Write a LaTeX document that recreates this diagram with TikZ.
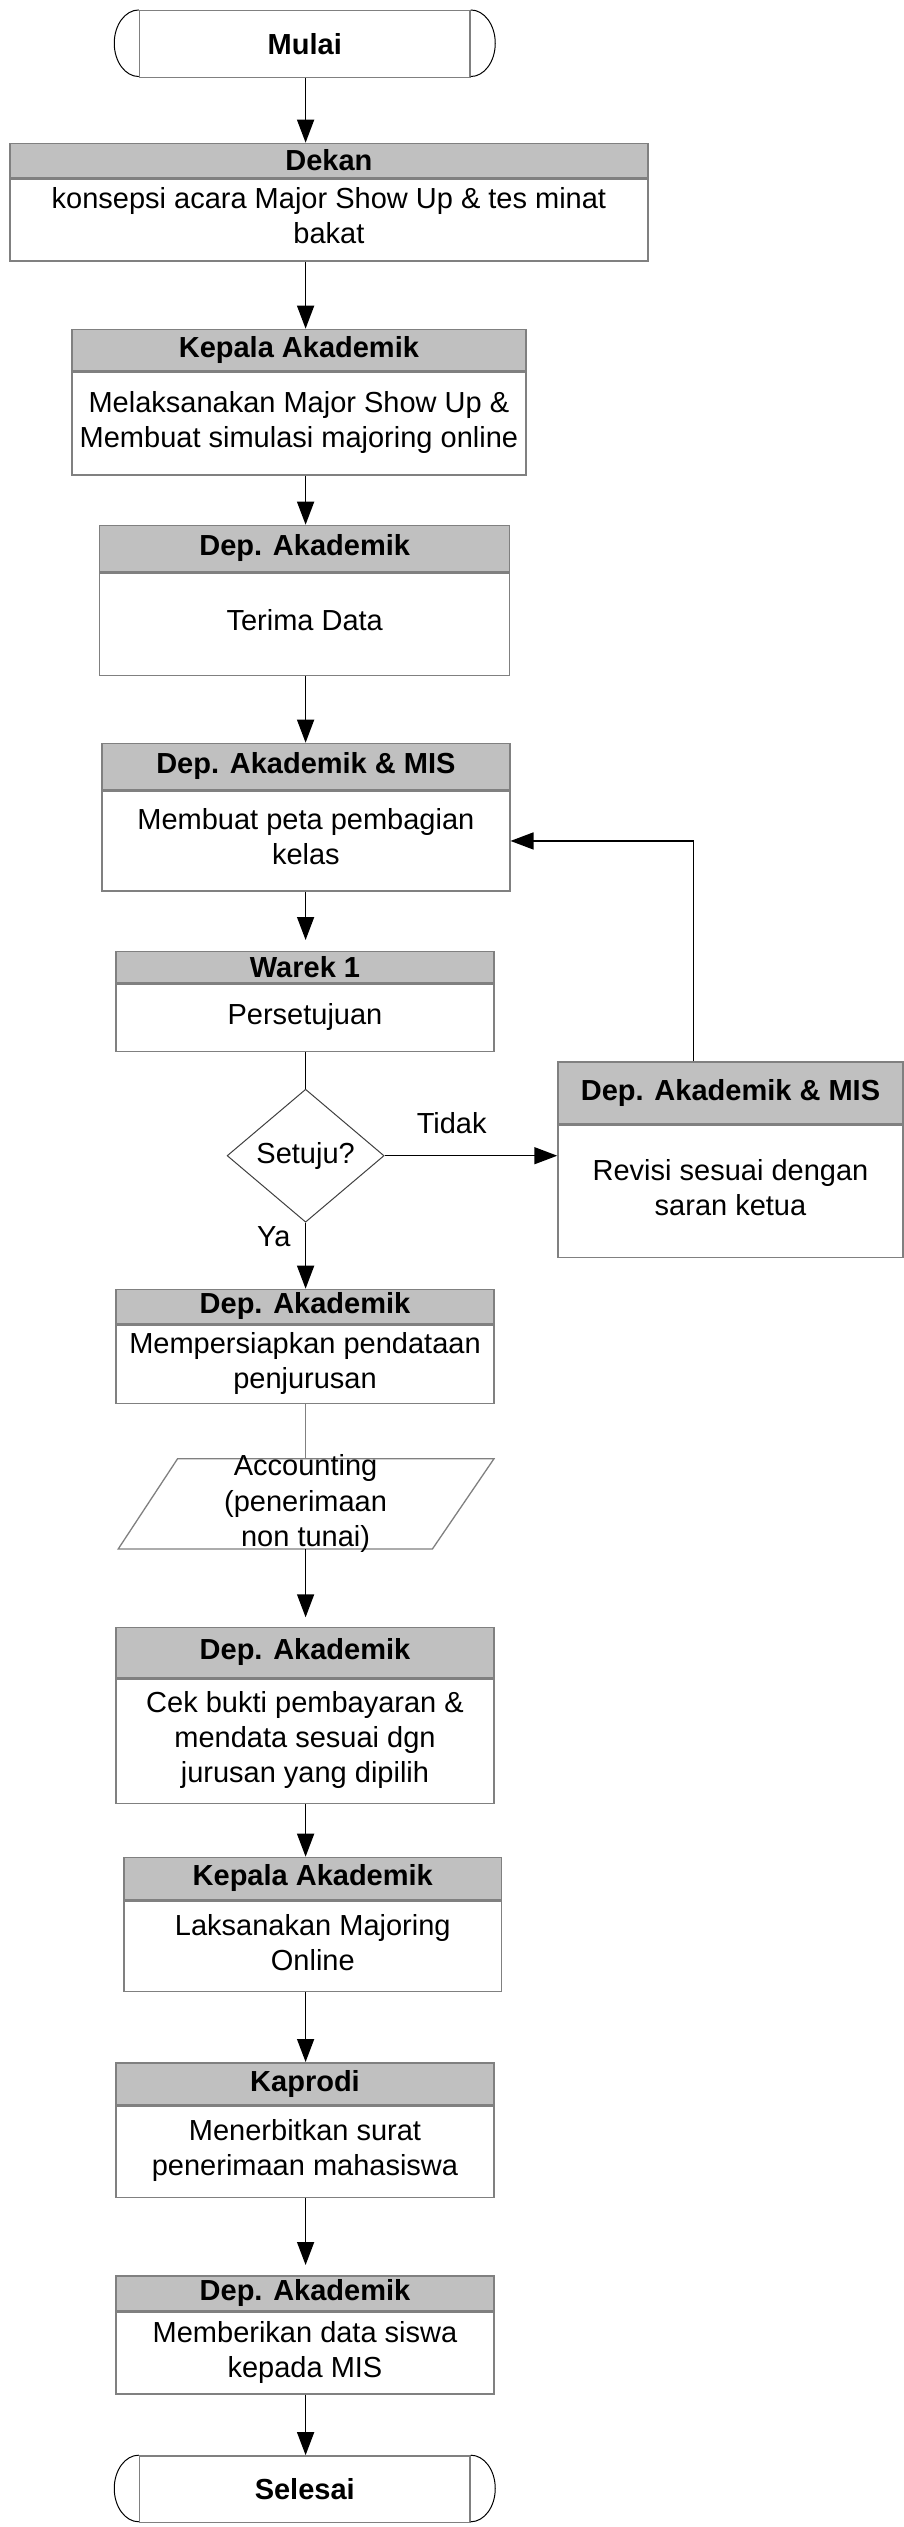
\documentclass[tikz,border=0pt]{standalone}
\usepackage{fontspec}
\setmainfont{Liberation Sans}
\usetikzlibrary{arrows.meta,shapes.geometric}
\definecolor{bordergray}{HTML}{808080}
\definecolor{hdrgray}{HTML}{C0C0C0}
\definecolor{diagray}{HTML}{404040}
\tikzset{
  hdr/.style={draw=bordergray, line width=1.5pt, fill=hdrgray, anchor=north, inner sep=0pt,
    font=\bfseries\fontsize{29}{35}\selectfont},
  bdy/.style={draw=bordergray, line width=1.5pt, fill=white, anchor=north, inner sep=0pt,
    align=center, font=\fontsize{29}{35}\selectfont,
    execute at end node={\rule[-8pt]{0pt}{8pt}}},
  term/.style={draw=bordergray, line width=1.5pt, minimum width=330.5pt, minimum height=66.6pt,
    inner sep=0pt, font=\bfseries\fontsize{29}{35}\selectfont},
  endarc/.style={draw=black, line width=1pt},
  arr/.style={line width=1.5pt, -{Triangle[length=23pt,width=17pt]}},
  plain/.style={line width=1.5pt},
  graylink/.style={draw=bordergray, line width=1.3pt},
  lbl/.style={font=\fontsize{29}{35}\selectfont, inner sep=0pt},
}
\begin{document}
\begin{tikzpicture}[x=1pt,y=-1pt]
\useasboundingbox[fill=white] (0,0) rectangle (904,2527);
\coordinate (ax) at (305.6,0);
\coordinate (fb) at (693.6,0);

% Mulai
\node[term] (mulai) at (304.75,44) {Mulai};
\draw[endarc] (mulai.north west) arc[start angle=90,end angle=270,x radius=24.5pt,y radius=33.3pt];
\draw[endarc] (mulai.north east) arc[start angle=90,end angle=-90,x radius=24.5pt,y radius=33.3pt];

% Dekan
\node[hdr, minimum width=638pt, minimum height=34pt] (dekanh) at (328.9,142.7) {Dekan};
\node[bdy, minimum width=638pt, minimum height=82pt] (dekan) at (dekanh.south) {konsepsi acara Major Show Up \& tes minat\\bakat};

% Kepala Akademik
\node[hdr, minimum width=453.8pt, minimum height=41.3pt] (kepalah) at (298.9,328.7) {Kepala Akademik};
\node[bdy, minimum width=453.8pt, minimum height=102.7pt] (kepala) at (kepalah.south) {Melaksanakan Major Show Up \&\\Membuat simulasi majoring online};

% Dep. Akademik
\node[hdr, minimum width=410pt, minimum height=46pt] (depakh) at (304.7,524.7) {Dep. Akademik};
\node[bdy, minimum width=410pt, minimum height=102.3pt] (depak) at (depakh.south) {Terima Data};

% Dep. Akademik & MIS
\node[hdr, minimum width=407.7pt, minimum height=46pt] (damh) at (305.9,742.7) {Dep. Akademik \& MIS};
\node[bdy, minimum width=407.7pt, minimum height=100pt] (dam) at (damh.south) {Membuat peta pembagian\\kelas};

% Warek 1
\node[hdr, minimum width=378pt, minimum height=31.6pt] (warekh) at (305,950.7) {Warek 1};
\node[bdy, minimum width=378pt, minimum height=66.7pt] (warek) at (warekh.south) {Persetujuan};

% Decision
\node[diamond, draw=diagray, line width=1pt, minimum width=157pt, minimum height=133pt, inner sep=0pt,
  font=\fontsize{29}{35}\selectfont] (dec) at (305.6,1155.7) {Setuju?};

% Revisi box
\node[hdr, minimum width=345pt, minimum height=61.7pt] (revh) at (730.5,1061) {Dep. Akademik \& MIS};
\node[bdy, minimum width=345pt, minimum height=132.3pt] (rev) at (revh.south) {Revisi sesuai dengan\\saran ketua};

% Dep. Akademik 2
\node[hdr, minimum width=378pt, minimum height=34pt] (depak2h) at (305,1288.7) {Dep. Akademik};
\node[bdy, minimum width=378pt, minimum height=78.3pt] (depak2) at (depak2h.south) {Mempersiapkan pendataan\\penjurusan};

% Accounting parallelogram
\coordinate (acctl) at (177.6,1458.7);
\coordinate (acctr) at (494,1458.7);
\coordinate (accbr) at (432.4,1549);
\coordinate (accbl) at (118.2,1549);
\coordinate (acctop) at (305.6,1458.7);
\coordinate (accbot) at (305.6,1549);
\draw[draw=bordergray, line width=1.3pt, fill=white] (acctl) -- (acctr) -- (accbr) -- (accbl) -- cycle;

% Dep. Akademik 3
\node[hdr, minimum width=378pt, minimum height=50pt] (depak3h) at (305,1626.7) {Dep. Akademik};
\node[bdy, minimum width=378pt, minimum height=124.3pt] (depak3) at (depak3h.south) {Cek bukti pembayaran \&\\mendata sesuai dgn\\jurusan yang dipilih};

% Kepala Akademik 2
\node[hdr, minimum width=377.6pt, minimum height=42pt] (kepala2h) at (312.8,1856.7) {Kepala Akademik};
\node[bdy, minimum width=377.6pt, minimum height=90.3pt] (kepala2) at (kepala2h.south) {Laksanakan Majoring\\Online};

% Kaprodi
\node[hdr, minimum width=378pt, minimum height=42pt] (kaprodih) at (305,2062) {Kaprodi};
\node[bdy, minimum width=378pt, minimum height=91.3pt] (kaprodi) at (kaprodih.south) {Menerbitkan surat\\penerimaan mahasiswa};

% Dep. Akademik 4
\node[hdr, minimum width=378pt, minimum height=35pt] (depak4h) at (305,2275) {Dep. Akademik};
\node[bdy, minimum width=378pt, minimum height=81.7pt] (depak4) at (depak4h.south) {Memberikan data siswa\\kepada MIS};

% Selesai
\node[term] (selesai) at (304.75,2489.2) {Selesai};
\draw[endarc] (selesai.north west) arc[start angle=90,end angle=270,x radius=24.5pt,y radius=33.3pt];
\draw[endarc] (selesai.north east) arc[start angle=90,end angle=-90,x radius=24.5pt,y radius=33.3pt];

% Connectors
\draw[arr] (mulai.south -| ax) -- (dekanh.north -| ax);
\draw[arr] (dekan.south -| ax) -- (kepalah.north -| ax);
\draw[arr] (kepala.south -| ax) -- (depakh.north -| ax);
\draw[arr] (depak.south -| ax) -- (damh.north -| ax);
\draw[arr, shorten >=10.7pt] (dam.south -| ax) -- (warekh.north -| ax);
\draw[plain] (warek.south -| ax) -- (dec.north);
\draw[arr] (dec.east) -- (dec.east -| rev.west);
\draw[arr] (dec.south) -- (depak2h.north -| ax);
\draw[arr] (revh.north -| fb) |- (dam.east);
\draw[graylink] (depak2.south -| ax) -- (acctop);
\draw[arr, shorten >=9.4pt] (accbot) -- (depak3h.north -| ax);
\draw[arr] (depak3.south -| ax) -- (kepala2h.north -| ax);
\draw[arr] (kepala2.south -| ax) -- (kaprodih.north -| ax);
\draw[arr, shorten >=10pt] (kaprodi.south -| ax) -- (depak4h.north -| ax);
\draw[arr] (depak4.south -| ax) -- (selesai.north -| ax);

% Accounting text (drawn over link)
\node[lbl, align=center, font=\fontsize{29}{35.5}\selectfont] (acc) at (305.6,1503.8) {Accounting\\(penerimaan\\non tunai)};

% Labels
\node[lbl] (tidak) at (451.7,1123) {Tidak};
\node[lbl] (ya) at (273.8,1237) {Ya};
\end{tikzpicture}
\end{document}
